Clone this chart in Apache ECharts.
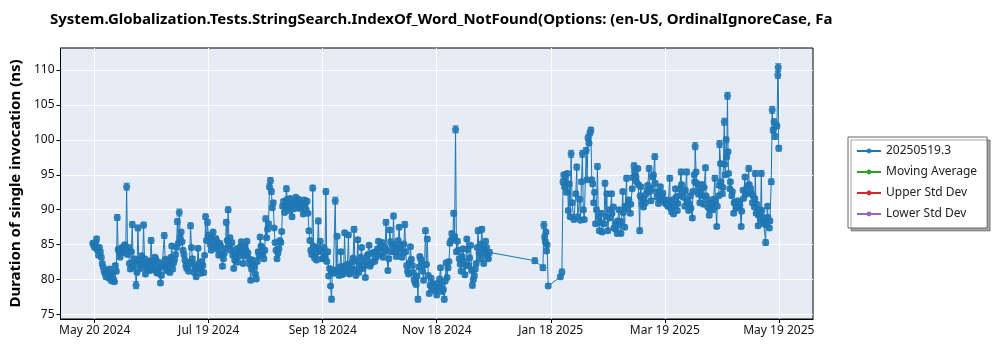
<!DOCTYPE html>
<html><head><meta charset="utf-8">
<script src="https://cdn.jsdelivr.net/npm/echarts@6/dist/echarts.min.js"></script>
<style>html,body{margin:0;padding:0;background:#fff}#c{width:1000px;height:350px}</style>
</head><body><div id="c"></div>
<script>
const titleText = 'System.Globalization.Tests.StringSearch.IndexOf_Word_NotFound(Options: (en-US, OrdinalIgnoreCase, Fa';
const yAxisName = 'Duration of single invocation (ns)';
const legendNames = ['20250519.3', 'Moving Average', 'Upper Std Dev', 'Lower Std Dev'];
const legendColors = ['#1f77b4', '#2ca02c', '#d62728', '#9467bd'];
const xTickLabels = ['May 20 2024', 'Jul 19 2024', 'Sep 18 2024', 'Nov 18 2024', 'Jan 18 2025', 'Mar 19 2025', 'May 19 2025'];
const yTicks = [75, 80, 85, 90, 95, 100, 105, 110];
const daysPerTick = 364 / 6; // tick spacing, days

// ---- runs, days since 2024-05-20 : May - Dec 2024 ----
const daysA = [
 -1,0,1,2,3,4,5,6,7,8,
 9,10,11,12,13,14,15,16,17,18,
 19,20,21,22,23,24,25,26,27,28,
 29,30,31,32,33,34,35,36,37,38,
 39,40,41,42,43,44,45,46,47,48,
 49,50,51,52,53,54,55,56,57,58,
 59,60,61,62,63,64,65,66,67,68,
 69,70,71,72,73,74,75,76,77,78,
 79,80,81,82,83,84,85,86,87,88,
 89,90,91,92,93,94,95,96,97,98,
 99,100,101,102,103,104,105,106,107,108,
 109,110,111,112,113,114,115,116,117,118,
 119,120,121,122,123,124,125,126,127,128,
 129,130,131,132,133,134,135,136,137,138,
 139,140,141,142,143,144,145,146,147,148,
 149,150,151,152,153,154,155,156,157,158,
 159,160,161,162,163,164,165,166,167,168,
 169,170,171,172,173,174,175,176,177,178,
 179,180,181,182,183,184,185,186,187,188,
 189,190,191,192,193,194,195,196,197,198,
 199,200,201,202,203,204,205,206,207,208,
 209,210
];
const valuesA = [
 85.2,84.6,85.8,83.5,84.0,82.3,81.2,80.4,80.8,81.5,
 79.8,80.0,82.0,88.9,84.0,83.8,84.5,85.0,93.3,84.6,
 81.5,87.9,83.0,79.2,87.4,82.0,83.4,87.8,80.8,81.5,
 82.4,85.6,82.0,83.2,81.0,82.5,79.5,82.2,86.3,81.3,
 82.8,81.0,84.8,82.4,83.6,88.3,89.6,86.8,84.2,82.8,
 81.6,81.2,87.7,83.0,81.0,80.4,84.5,81.5,82.6,81.0,
 89.0,88.2,86.0,84.2,86.8,84.8,85.4,83.5,84.8,81.9,
 83.8,88.2,90.0,86.0,85.3,81.6,83.6,82.5,84.0,85.4,
 82.3,84.8,85.5,83.0,79.9,82.8,81.8,80.1,84.0,86.1,
 84.6,83.0,88.7,87.2,93.3,92.6,91.0,85.3,83.0,84.4,
 85.3,90.5,89.6,93.0,90.4,91.6,89.0,90.7,91.8,90.2,
 90.4,91.0,89.4,90.8,91.2,87.0,84.2,93.1,83.1,82.8,
 88.4,85.5,83.0,84.6,92.6,84.0,81.6,77.2,81.0,91.3,
 86.2,80.6,84.0,80.8,86.7,81.5,86.4,81.0,82.5,87.2,
 80.6,85.7,82.0,84.6,82.3,80.3,83.4,84.9,82.3,83.8,
 82.6,84.0,85.5,84.6,85.3,84.0,88.2,81.3,87.1,84.0,
 89.1,85.0,84.0,87.5,84.5,83.8,87.9,82.0,80.8,84.7,
 82.0,80.0,79.3,77.2,83.3,82.5,79.9,87.0,85.8,78.0,
 80.2,78.5,79.0,77.8,79.5,81.7,78.3,77.2,82.4,81.7,
 85.2,86.6,89.5,101.5,85.5,83.0,81.2,84.4,80.7,85.8,
 82.0,84.9,79.2,80.6,82.3,87.0,83.0,87.2,82.3,85.5,
 83.3,83.9
];
const errorsA = [
 0.3,0.3,0.4,0.3,0.3,0.3,0.3,0.3,0.3,0.3,
 0.3,0.3,0.3,0.4,0.3,0.3,0.3,0.3,0.5,0.3,
 0.3,0.4,0.3,0.5,0.4,0.3,0.3,0.4,0.3,0.3,
 0.3,0.4,0.3,0.3,0.3,0.3,0.3,0.3,0.4,0.3,
 0.3,0.3,0.3,0.3,0.3,0.4,0.5,0.3,0.3,0.3,
 0.3,0.3,0.4,0.3,0.3,0.3,0.3,0.3,0.3,0.3,
 0.4,0.4,0.3,0.3,0.3,0.3,0.3,0.3,0.3,0.3,
 0.3,0.4,0.4,0.3,0.3,0.3,0.3,0.3,0.3,0.3,
 0.3,0.3,0.3,0.3,0.3,0.3,0.3,0.3,0.3,0.3,
 0.3,0.3,0.4,0.3,0.4,0.4,0.3,0.3,0.3,0.3,
 0.3,0.3,0.3,0.4,0.3,0.3,0.3,0.3,0.3,0.3,
 0.3,0.3,0.3,0.3,0.3,0.3,0.3,0.4,0.3,0.3,
 0.4,0.3,0.3,0.3,0.4,0.3,0.3,0.4,0.3,0.5,
 0.3,0.3,0.3,0.3,0.3,0.3,0.3,0.3,0.3,0.4,
 0.3,0.3,0.3,0.3,0.3,0.3,0.3,0.3,0.3,0.3,
 0.3,0.3,0.3,0.3,0.3,0.3,0.4,0.3,0.3,0.3,
 0.4,0.3,0.3,0.3,0.3,0.3,0.4,0.3,0.3,0.3,
 0.3,0.3,0.3,0.4,0.3,0.3,0.3,0.4,0.3,0.3,
 0.3,0.3,0.3,0.3,0.3,0.3,0.3,0.4,0.3,0.3,
 0.3,0.3,0.4,0.5,0.3,0.3,0.3,0.3,0.3,0.3,
 0.3,0.3,0.4,0.3,0.3,0.4,0.3,0.4,0.3,0.3,
 0.3,0.4
];
// second run of the same days (half-day later), May - Dec 2024
const daysA2 = [
 -0.5,0.5,1.5,2.5,3.5,4.5,5.5,6.5,7.5,8.5,
 9.5,10.5,11.5,12.5,13.5,14.5,15.5,16.5,17.5,18.5,
 19.5,20.5,21.5,22.5,23.5,24.5,25.5,26.5,27.5,28.5,
 29.5,30.5,31.5,32.5,33.5,34.5,35.5,36.5,37.5,38.5,
 39.5,40.5,41.5,42.5,43.5,44.5,45.5,46.5,47.5,48.5,
 49.5,50.5,51.5,52.5,53.5,54.5,55.5,56.5,57.5,58.5,
 59.5,60.5,61.5,62.5,63.5,64.5,65.5,66.5,67.5,68.5,
 69.5,70.5,71.5,72.5,73.5,74.5,75.5,76.5,77.5,78.5,
 79.5,80.5,81.5,82.5,83.5,84.5,85.5,86.5,87.5,88.5,
 89.5,90.5,91.5,92.5,93.5,94.5,95.5,96.5,97.5,98.5,
 99.5,100.5,101.5,102.5,103.5,104.5,105.5,106.5,107.5,108.5,
 109.5,110.5,111.5,112.5,113.5,114.5,115.5,116.5,117.5,118.5,
 119.5,120.5,121.5,122.5,123.5,124.5,125.5,126.5,127.5,128.5,
 129.5,130.5,131.5,132.5,133.5,134.5,135.5,136.5,137.5,138.5,
 139.5,140.5,141.5,142.5,143.5,144.5,145.5,146.5,147.5,148.5,
 149.5,150.5,151.5,152.5,153.5,154.5,155.5,156.5,157.5,158.5,
 159.5,160.5,161.5,162.5,163.5,164.5,165.5,166.5,167.5,168.5,
 169.5,170.5,171.5,172.5,173.5,174.5,175.5,176.5,177.5,178.5,
 179.5,180.5,181.5,182.5,183.5,184.5,185.5,186.5,187.5,188.5,
 189.5,190.5,191.5,192.5,193.5,194.5,195.5,196.5,197.5,198.5,
 199.5,200.5,201.5,202.5,203.5,204.5,205.5,206.5,207.5,208.5,
 209.5
];
const valuesA2 = [
 84.9,85.3,84.2,84.6,83.2,81.8,80.9,81.3,80.2,81.0,
 80.6,79.7,81.2,84.3,83.2,84.6,83.9,84.2,83.6,82.3,
 84.0,81.8,82.6,81.0,82.8,81.6,82.2,83.0,81.9,82.7,
 81.3,82.6,81.4,82.9,80.9,81.7,80.6,82.0,82.9,81.8,
 82.2,83.2,81.5,82.9,84.6,85.2,86.0,85.4,83.6,82.0,
 81.8,82.5,84.6,82.2,81.6,81.8,82.3,80.9,82.0,83.5,
 85.6,86.4,85.0,85.8,84.6,85.9,84.3,85.2,83.6,83.0,
 84.4,85.6,84.9,84.2,83.5,82.8,84.4,83.3,84.7,83.9,
 83.4,84.2,83.8,82.2,81.5,82.2,80.8,82.6,83.4,84.8,
 83.6,84.2,86.0,88.0,94.2,90.3,87.4,84.2,83.8,85.6,
 86.9,91.2,90.6,91.5,89.9,90.8,90.1,91.3,90.9,91.5,
 90.2,90.6,91.4,90.0,89.5,85.6,83.6,84.8,83.6,84.5,
 84.3,84.0,83.0,83.2,82.6,80.5,79.1,81.3,80.9,81.4,
 81.3,81.8,80.7,81.9,81.1,82.2,80.8,81.6,83.1,81.4,
 82.7,81.0,83.2,81.6,82.0,82.7,83.6,81.9,82.5,83.9,
 83.1,84.4,83.5,84.8,83.2,84.6,84.2,83.0,85.4,84.9,
 84.4,83.3,85.6,84.9,83.2,85.1,84.0,81.2,82.4,82.9,
 81.0,79.6,80.5,81.8,82.9,81.2,82.1,82.2,80.6,79.2,
 78.8,79.4,78.4,78.9,80.1,79.3,78.6,79.8,80.3,82.6,
 85.6,85.9,86.2,84.0,84.2,82.2,83.3,82.6,82.0,84.3,
 83.1,81.3,80.0,81.5,84.6,83.8,85.1,84.4,83.8,84.6,
 83.0
];
const errorsA2 = [
 0.3,0.3,0.2,0.3,0.3,0.2,0.3,0.3,0.2,0.3,
 0.3,0.2,0.3,0.3,0.2,0.3,0.3,0.2,0.3,0.3,
 0.2,0.3,0.3,0.2,0.3,0.3,0.2,0.3,0.3,0.2,
 0.3,0.3,0.2,0.3,0.3,0.2,0.3,0.3,0.2,0.3,
 0.3,0.2,0.3,0.3,0.2,0.3,0.3,0.2,0.3,0.3,
 0.2,0.3,0.3,0.2,0.3,0.3,0.2,0.3,0.3,0.2,
 0.3,0.3,0.2,0.3,0.3,0.2,0.3,0.3,0.2,0.3,
 0.3,0.2,0.3,0.3,0.2,0.3,0.3,0.2,0.3,0.3,
 0.2,0.3,0.3,0.2,0.3,0.3,0.2,0.3,0.3,0.2,
 0.3,0.3,0.2,0.3,0.4,0.3,0.2,0.3,0.3,0.2,
 0.3,0.3,0.2,0.3,0.3,0.2,0.3,0.3,0.2,0.3,
 0.3,0.2,0.3,0.3,0.2,0.3,0.3,0.2,0.3,0.3,
 0.2,0.3,0.3,0.2,0.3,0.3,0.2,0.3,0.3,0.2,
 0.3,0.3,0.2,0.3,0.3,0.2,0.3,0.3,0.2,0.3,
 0.3,0.2,0.3,0.3,0.2,0.3,0.3,0.2,0.3,0.3,
 0.2,0.3,0.3,0.2,0.3,0.3,0.2,0.3,0.3,0.2,
 0.3,0.3,0.2,0.3,0.3,0.2,0.3,0.3,0.2,0.3,
 0.3,0.2,0.3,0.3,0.2,0.3,0.3,0.2,0.3,0.3,
 0.2,0.3,0.3,0.2,0.3,0.3,0.2,0.3,0.3,0.2,
 0.3,0.3,0.2,0.3,0.3,0.2,0.3,0.3,0.2,0.3,
 0.3,0.2,0.3,0.3,0.2,0.3,0.3,0.2,0.3,0.3,
 0.2
];

// ---- runs, days since 2024-05-20 : Jan - May 2025 ----
const daysB = [
 234.2,238.5,239.0,239.4,239.8,240.1,240.4,240.7,241.3,247.8,
 248.6,249.2,249.6,250,250.5,251,251.5,252,252.5,253,
 253.5,254,255,256,256.5,257,258,258.5,259,259.5,
 260,260.5,261.5,262,262.5,263,263.5,264,264.5,265,
 265.5,266,266.5,267,267.5,268,268.5,269,269.5,270,
 271,271.5,272,272.5,273,274,275,276,277,278,
 279,280,281,282,283,284,285,286,287,288,
 289,290,290.5,291,292,293,294,295,296,297,
 298,299,300,301,302,303,304,305,306,307,
 308,309,310,311,312,313,314,315,316,317,
 318,319,319.5,320,321,322,323,324,325,326,
 327,328,329,330,331,332,332.5,333,334,335,
 335.5,336,336.7,337,338,339,340,341,342,343,
 344,345,346,347,348,349,350,351,351.5,352,
 353,354,354.7,355,356,357,358,359,360,360.5,
 361,361.5,362,363,363.5,363.7,364
];
const valuesB = [
 82.7,81.7,87.8,86.1,85.4,86.8,84.1,85.0,79.1,80.4,
 81.1,94.0,95.0,93.3,94.5,92.5,95.2,89.9,93.7,89.0,
 98.0,91.0,88.6,92.3,96.1,89.0,91.5,88.5,94.0,98.0,
 90.0,88.6,98.5,94.3,100.3,99.5,101.0,101.4,94.3,93.7,
 91.0,92.5,88.0,90.0,96.2,89.0,87.0,88.2,89.5,86.8,
 88.0,93.8,89.0,92.3,87.0,90.0,92.3,90.4,88.0,86.6,
 90.0,86.6,92.6,87.5,94.5,91.1,89.5,93.0,96.3,94.7,
 95.9,87.0,93.3,91.7,90.4,91.0,92.8,95.9,91.3,94.7,
 97.6,92.5,90.9,93.3,92.0,91.2,91.4,90.5,94.5,89.7,
 89.4,93.0,89.9,92.0,95.4,92.5,90.5,95.4,89.9,92.0,
 88.8,95.0,99.1,95.4,93.0,91.0,93.6,90.8,96.0,91.5,
 89.2,91.0,90.0,94.5,87.6,92.0,99.4,96.6,92.3,102.6,
 95.0,100.0,106.3,98.3,93.0,92.0,89.5,91.1,90.4,91.0,
 87.6,92.8,94.7,92.3,95.9,93.0,91.0,90.4,95.2,89.5,
 87.7,90.0,95.2,89.9,88.0,85.3,90.5,87.4,94.0,104.3,
 101.4,102.6,100.5,102.0,109.3,110.4,98.8
];
const errorsB = [
 0.4,0.4,0.5,0.4,0.3,0.3,0.3,0.3,0.3,0.3,
 0.4,0.4,0.3,0.3,0.3,0.3,0.3,0.3,0.3,0.3,
 0.5,0.3,0.3,0.3,0.4,0.3,0.3,0.3,0.3,0.5,
 0.3,0.3,0.4,0.3,0.4,0.3,0.4,0.4,0.3,0.3,
 0.3,0.3,0.3,0.3,0.4,0.3,0.3,0.3,0.3,0.3,
 0.3,0.4,0.3,0.3,0.3,0.3,0.3,0.3,0.3,0.3,
 0.3,0.3,0.3,0.3,0.4,0.3,0.3,0.3,0.4,0.3,
 0.3,0.4,0.3,0.3,0.3,0.3,0.3,0.4,0.3,0.3,
 0.4,0.3,0.3,0.3,0.3,0.3,0.3,0.3,0.4,0.3,
 0.3,0.3,0.3,0.3,0.4,0.3,0.3,0.4,0.3,0.3,
 0.3,0.3,0.5,0.3,0.3,0.3,0.3,0.3,0.4,0.3,
 0.3,0.3,0.3,0.4,0.3,0.3,0.5,0.3,0.3,0.5,
 0.3,0.4,0.5,0.3,0.3,0.3,0.3,0.3,0.3,0.3,
 0.3,0.3,0.3,0.3,0.4,0.3,0.3,0.3,0.4,0.3,
 0.3,0.3,0.4,0.3,0.3,0.4,0.3,0.3,0.4,0.5,
 0.4,0.4,0.4,0.4,0.5,0.5,0.4
];
// second run, Feb - May 2025
const daysB2 = [
 274.25,275.25,276.25,277.25,278.25,279.25,280.25,281.25,282.25,283.25,
 284.25,285.25,286.25,287.25,288.25,289.25,290.25,291.25,292.25,293.25,
 294.25,295.25,296.25,297.25,298.25,299.25,300.25,301.25,302.25,303.25,
 304.25,305.25,306.25,307.25,308.25,309.25,310.25,311.25,312.25,313.25,
 314.25,315.25,316.25,317.25,318.25,319.25,320.25,321.25,322.25,323.25,
 324.25,325.25,326.25,327.25,328.25,329.25,330.25,331.25,332.25,333.25,
 334.25,335.25,336.25,337.25,338.25,339.25,340.25,341.25,342.25,343.25,
 344.25,345.25,346.25,347.25,348.25,349.25,350.25,351.25,352.25,353.25,
 354.25,355.25,356.25,357.25,358.25,359.25
];
const valuesB2 = [
 88.8,89.5,87.4,87.2,88.4,87.9,88.3,89.6,90.5,90.2,
 91.4,90.8,94.6,95.5,94.0,93.6,92.0,90.8,91.6,92.2,
 93.5,92.6,93.0,95.0,93.8,91.8,92.4,91.5,92.4,91.0,
 90.8,91.2,90.3,91.4,90.6,91.8,90.9,93.0,93.6,91.8,
 92.8,91.2,90.8,90.2,92.6,94.0,93.8,92.2,92.6,92.0,
 93.2,92.0,90.4,90.0,90.8,91.5,91.2,90.5,93.5,94.0,
 93.2,96.5,97.5,95.2,94.0,92.6,91.0,90.2,91.3,90.6,
 89.8,91.6,92.2,93.4,93.6,92.4,92.0,91.6,90.8,89.2,
 88.6,89.0,88.2,87.8,88.9,88.4
];
const errorsB2 = [
 0.3,0.3,0.2,0.3,0.3,0.2,0.3,0.3,0.2,0.3,
 0.3,0.2,0.3,0.3,0.2,0.3,0.3,0.2,0.3,0.3,
 0.2,0.3,0.3,0.2,0.3,0.3,0.2,0.3,0.3,0.2,
 0.3,0.3,0.2,0.3,0.3,0.2,0.3,0.3,0.2,0.3,
 0.3,0.2,0.3,0.3,0.2,0.3,0.3,0.2,0.3,0.3,
 0.2,0.3,0.3,0.2,0.3,0.3,0.2,0.3,0.3,0.2,
 0.3,0.3,0.2,0.3,0.3,0.2,0.3,0.3,0.2,0.3,
 0.3,0.2,0.3,0.3,0.2,0.3,0.3,0.2,0.3,0.3,
 0.2,0.3,0.3,0.2,0.3,0.3
];

const days = [].concat(daysA, daysA2, daysB, daysB2);
const values = [].concat(valuesA, valuesA2, valuesB, valuesB2);
const errors = [].concat(errorsA, errorsA2, errorsB, errorsB2);

const FONT = 'Noto Sans';
const BLUE = legendColors[0];

// chronological order for the connecting line
const order = days.map((d, i) => i).sort((a, b) => days[a] - days[b]);
const lineData = order.map(i => [days[i] / daysPerTick, values[i]]);
const errData = order.map(i => [days[i] / daysPerTick, values[i] - errors[i], values[i] + errors[i]]);

const chart = echarts.init(document.getElementById('c'), null, {renderer: 'canvas'});
chart.setOption({
  animation: false,
  backgroundColor: '#ffffff',
  title: {
    text: titleText, left: 45, top: 7,
    textStyle: {fontFamily: FONT, fontSize: 15, fontWeight: 'bold', color: '#000'}
  },
  grid: {
    left: 55, right: 187, top: 48, bottom: 31,
    show: true, backgroundColor: '#E5ECF6', borderColor: '#000', borderWidth: 1
  },
  legend: {
    orient: 'vertical', left: 848, top: 137,
    data: legendNames,
    backgroundColor: '#fff', borderColor: '#666', borderWidth: 1,
    padding: [8, 10, 8, 8], itemGap: 9, itemWidth: 24, itemHeight: 6,
    shadowColor: 'rgba(0,0,0,0.35)', shadowBlur: 0, shadowOffsetX: 3, shadowOffsetY: 3,
    textStyle: {fontFamily: FONT, fontSize: 12, color: '#222'}
  },
  xAxis: {
    type: 'value', min: -0.3, max: 6.3,
    axisLine: {show: true, onZero: false, lineStyle: {color: '#000'}},
    axisTick: {show: true, length: 4, lineStyle: {color: '#000'}, customValues: xTickLabels.map((_, i) => i)},
    axisLabel: {
      customValues: xTickLabels.map((_, i) => i),
      formatter: v => xTickLabels[Math.round(v)] || '',
      fontFamily: FONT, fontSize: 12, color: '#111', margin: 6
    },
    splitLine: {show: true, lineStyle: {color: '#fff', width: 1}}
  },
  yAxis: {
    type: 'value', min: 74.36, max: 113.15,
    name: yAxisName, nameLocation: 'middle', nameGap: 34,
    nameTextStyle: {fontFamily: FONT, fontSize: 15, fontWeight: 'bold', color: '#000'},
    axisLine: {show: true, onZero: false, lineStyle: {color: '#000'}},
    axisTick: {show: true, length: 4, lineStyle: {color: '#000'}, customValues: yTicks},
    axisLabel: {customValues: yTicks, fontFamily: FONT, fontSize: 12, color: '#111', margin: 6},
    splitLine: {show: true, lineStyle: {color: '#fff', width: 1}}
  },
  series: [
    {
      name: legendNames[0], type: 'line', data: lineData,
      symbol: 'circle', symbolSize: 7, showSymbol: true,
      itemStyle: {color: BLUE, opacity: 0.9},
      lineStyle: {color: BLUE, width: 1},
      z: 3
    },
    {
      name: 'errors', type: 'custom', data: errData, z: 2,
      encode: {x: 0, y: [1, 2]},
      renderItem: (params, api) => {
        const x = api.value(0);
        const lo = api.coord([x, api.value(1)]);
        const hi = api.coord([x, api.value(2)]);
        const w = 3;
        const st = {stroke: BLUE, lineWidth: 1, opacity: 0.9};
        return {type: 'group', children: [
          {type: 'line', shape: {x1: lo[0], y1: lo[1], x2: hi[0], y2: hi[1]}, style: st},
          {type: 'line', shape: {x1: hi[0] - w, y1: hi[1], x2: hi[0] + w, y2: hi[1]}, style: st},
          {type: 'line', shape: {x1: lo[0] - w, y1: lo[1], x2: lo[0] + w, y2: lo[1]}, style: st}
        ]};
      }
    },
    {name: legendNames[1], type: 'line', data: [], symbol: 'circle', itemStyle: {color: legendColors[1]}, lineStyle: {color: legendColors[1]}},
    {name: legendNames[2], type: 'line', data: [], symbol: 'circle', itemStyle: {color: legendColors[2]}, lineStyle: {color: legendColors[2]}},
    {name: legendNames[3], type: 'line', data: [], symbol: 'circle', itemStyle: {color: legendColors[3]}, lineStyle: {color: legendColors[3]}}
  ]
});
</script>
</body></html>
